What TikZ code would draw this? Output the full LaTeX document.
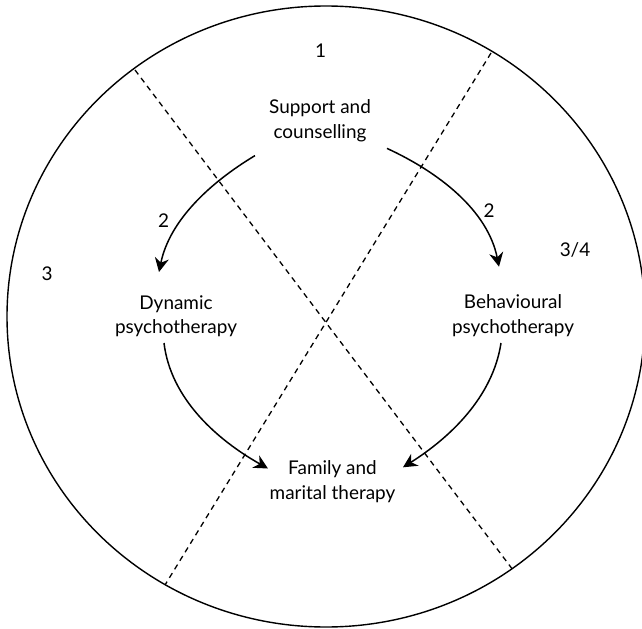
\documentclass[tikz,border=0pt]{standalone}
\usepackage{fontspec}
\setmainfont{Lato}
\usetikzlibrary{arrows.meta}
\begin{document}
\begin{tikzpicture}[x=1bp,y=-1bp,
  lbl/.style={inner sep=0pt, align=center, anchor=base,
              font=\fontsize{19}{24.8}\selectfont},
  num/.style={inner sep=0pt, anchor=base, font=\fontsize{19}{24.8}\selectfont},
  ring/.style={line width=1.4bp},
  divider/.style={line width=1.3bp, dash pattern=on 5.5bp off 4.5bp},
  flow/.style={line width=1.5bp, -{Stealth[length=14bp,width=14bp,inset=4.5bp]}}]
\useasboundingbox (0,0) rectangle (642,629);

% outer ring
\draw[ring] (326,316.5) ellipse [x radius=319, y radius=310.5];

% the two dashed dividers
\coordinate (dA1) at (135,70);
\coordinate (dA2) at (513,570);
\coordinate (dB1) at (491,53);
\coordinate (dB2) at (165,585);
\draw[divider] (dA1) -- (dA2);
\draw[divider] (dB1) -- (dB2);

% sector numbers
\node[num] (n1)  at (320.6,57.8) {1};
\node[num] (n3)  at (47,280) {3};
\node[num] (n34) at (575,256) {3/4};
\node[num] (n2l) at (163.5,227) {2};
\node[num] (n2r) at (489,217) {2};

% therapies (anchor base = baseline of the second line)
\node[lbl] (sup) at (320,138.1) {Support and\\counselling};
\node[lbl] (dyn) at (176,333.8) {Dynamic\\psychotherapy};
\node[lbl] (beh) at (513,333.3) {Behavioural\\psychotherapy};
\node[lbl] (fam) at (332.5,499.1) {Family and\\marital therapy};

% arrow end points around the therapy labels
\coordinate (supL) at (255,155.6);
\coordinate (supR) at (387,148.4);
\coordinate (dynT) at (159,272);
\coordinate (behT) at (499,266.7);
\coordinate (dynB) at (164,343);
\coordinate (behB) at (501,343);
\coordinate (famL) at (268,468.5);
\coordinate (famR) at (403,467.3);

\draw[flow] (supL) .. controls (209.9,182.7) and (169.5,220.5) .. (dynT);
\draw[flow] (supR) .. controls (439.1,172.4) and (487.7,210.4) .. (behT);
\draw[flow] (dynB) .. controls (170.8,399.6) and (218.4,440.6) .. (famL);
\draw[flow] (behB) .. controls (492.7,397.5) and (449.5,437.9) .. (famR);
\end{tikzpicture}
\end{document}
